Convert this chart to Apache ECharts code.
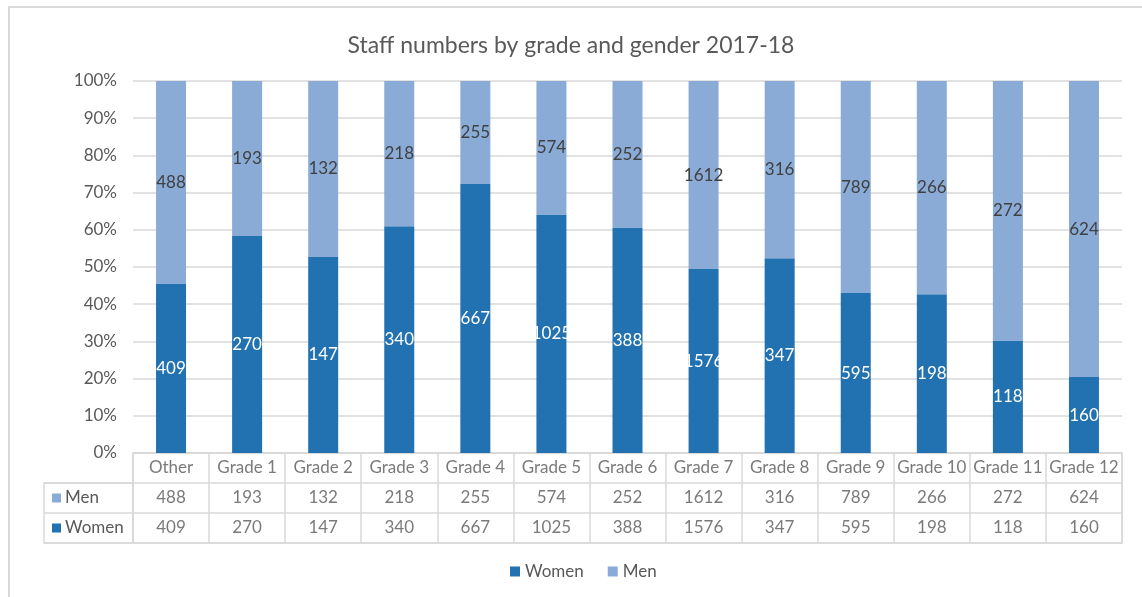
<!DOCTYPE html>
<html>
<head>
<meta charset="utf-8">
<script src="https://cdn.jsdelivr.net/npm/echarts@6/dist/echarts.min.js"></script>
<style>
html,body{margin:0;padding:0;background:#fff;}
#chart{width:1142px;height:597px;}
</style>
</head>
<body>
<div id="chart"></div>
<script>
const categories = ['Other','Grade 1','Grade 2','Grade 3','Grade 4','Grade 5','Grade 6','Grade 7','Grade 8','Grade 9','Grade 10','Grade 11','Grade 12'];
const men = [488,193,132,218,255,574,252,1612,316,789,266,272,624];
const women = [409,270,147,340,667,1025,388,1576,347,595,198,118,160];
const yTicks = [0,0.1,0.2,0.3,0.4,0.5,0.6,0.7,0.8,0.9,1];

const FONT = 'Lato';
const TXT = '#595959';
const GRID_C = '#d9d9d9';
const WOMEN_C = '#2271b0';
const MEN_C = '#8aabd6';
const FS = 17;

const totals = categories.map((c,i)=>men[i]+women[i]);
const womenPct = women.map((v,i)=>[i, v/totals[i], v]);
const menPct = men.map((v,i)=>[i, v/totals[i], v]);

const tableRows = ['Women','Men','hdr'];
const menCells = men.map((v,i)=>[i,'Men',v]);
const womenCells = women.map((v,i)=>[i,'Women',v]);
const hdrCells = categories.map((c,i)=>[i,'hdr',c]);

const chart = echarts.init(document.getElementById('chart'));
const cellLabel = {show:true, position:'inside', color:TXT, fontSize:FS, fontFamily:FONT, formatter:p=>p.value[2]};
chart.setOption({
  animation:false,
  textStyle:{fontFamily:FONT},
  title:{text:'Staff numbers by grade and gender 2017-18', left:'center', top:29,
    textStyle:{fontSize:23, fontWeight:'normal', color:TXT, fontFamily:FONT}},
  legend:{data:['Women','Men'], bottom:12, left:505, icon:'rect', itemWidth:10, itemHeight:10, itemGap:24,
    textStyle:{fontSize:FS, color:TXT, fontFamily:FONT}},
  graphic:[{type:'rect', shape:{x:9,y:7,width:1300,height:700}, style:{fill:'none', stroke:GRID_C, lineWidth:2}, silent:true}],
  grid:[
    {left:133, width:989, top:81, height:372},
    {left:133, width:989, top:453, height:90, show:true, borderColor:GRID_C, borderWidth:1.5, backgroundColor:'transparent'},
    {left:44, width:89, top:483, height:60, show:true, borderColor:GRID_C, borderWidth:1.5, backgroundColor:'transparent'}
  ],
  xAxis:[
    {type:'category', gridIndex:0, data:categories, axisLabel:{show:false}, axisTick:{show:false}, axisLine:{show:false}},
    {type:'category', gridIndex:1, data:categories, axisLabel:{show:false}, axisTick:{show:false}, axisLine:{show:false},
      splitLine:{show:true, lineStyle:{color:GRID_C, width:1.5}}},
    {type:'value', gridIndex:2, show:false}
  ],
  yAxis:[
    {type:'value', gridIndex:0, min:0, max:1, interval:0.1, axisLine:{show:false}, axisTick:{show:false},
      axisLabel:{formatter:v=>Math.round(v*100)+'%', color:TXT, fontSize:FS, fontFamily:FONT, margin:16},
      splitLine:{lineStyle:{color:GRID_C, width:1.5}}},
    {type:'category', gridIndex:1, data:tableRows, axisTick:{show:false}, axisLine:{show:false},
      splitLine:{show:true, lineStyle:{color:GRID_C, width:1.5}},
      axisLabel:{align:'left', margin:81, fontSize:FS, fontFamily:FONT, color:TXT,
        formatter:v=> v==='Men' ? '{m|}{t|Men}' : (v==='Women' ? '{w|}{t|Women}' : ''),
        rich:{m:{width:9,height:9,backgroundColor:MEN_C}, w:{width:9,height:9,backgroundColor:WOMEN_C},
          t:{fontSize:FS, fontFamily:FONT, color:TXT, padding:[0,0,0,4]}}}},
    {type:'category', gridIndex:2, data:['Women','Men'], axisTick:{show:false}, axisLine:{show:false}, axisLabel:{show:false},
      splitLine:{show:true, lineStyle:{color:GRID_C, width:1.5}}}
  ],
  series:[
    {name:'Women', type:'bar', stack:'s', xAxisIndex:0, yAxisIndex:0, data:womenPct, barWidth:30, itemStyle:{color:WOMEN_C},
      label:{show:true, position:'inside', color:'#ffffff', fontSize:FS, fontFamily:FONT, formatter:p=>p.value[2]}},
    {name:'Men', type:'bar', stack:'s', xAxisIndex:0, yAxisIndex:0, data:menPct, barWidth:30, itemStyle:{color:MEN_C},
      label:{show:true, position:'inside', color:'#404040', fontSize:FS, fontFamily:FONT, formatter:p=>p.value[2]}},
    {name:'tblHdr', type:'scatter', xAxisIndex:1, yAxisIndex:1, symbolSize:0, data:hdrCells, label:cellLabel},
    {name:'tblMen', type:'scatter', xAxisIndex:1, yAxisIndex:1, symbolSize:0, data:menCells, label:cellLabel},
    {name:'tblWomen', type:'scatter', xAxisIndex:1, yAxisIndex:1, symbolSize:0, data:womenCells, label:cellLabel}
  ]
});
</script>
</body>
</html>
